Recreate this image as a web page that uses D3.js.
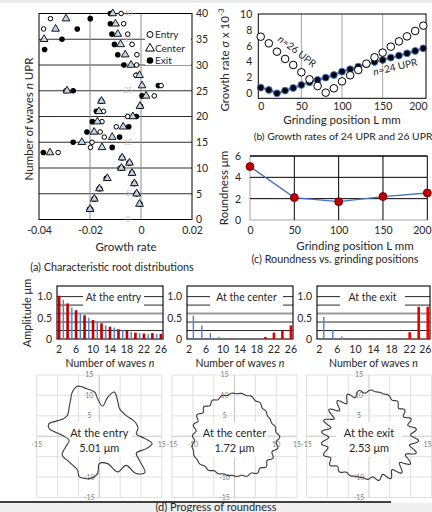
<!DOCTYPE html>
<html>
<head>
<meta charset="utf-8">
<script src="https://cdn.jsdelivr.net/npm/d3@7"></script>
<style>
body { margin: 0; background: #fff; }
svg { display: block; font-family: Lato, "Open Sans", sans-serif; }
</style>
</head>
<body>
<div class="canva"></div>
<script>
// (a) characteristic roots, n = 2..40 (null = off the chart)
const waveN = [2,3,4,5,6,7,8,9,10,11,12,13,14,15,16,17,18,19,20,21,22,23,24,25,26,27,28,29,30,31,32,33,34,35,36,37,38,39,40];
const entryRate = [-0.0197,-0.0005,-0.0181,-0.0016,-0.0161,-0.0025,-0.0134,-0.0034,-0.0082,-0.0044,-0.0073,-0.0325,-0.0198,-0.0192,-0.0144,-0.0160,-0.0097,-0.0153,-0.0052,-0.0147,-0.0003,-0.0154,0.0052,-0.0295,0.0079,null,-0.0020,null,-0.0017,null,-0.0016,null,-0.0035,null,-0.0052,-0.0382,-0.0068,-0.0355,-0.0078];
const centerRate = [-0.0200,-0.0006,-0.0183,-0.0017,-0.0163,-0.0026,-0.0132,-0.0035,-0.0077,-0.0045,-0.0074,-0.0357,-0.0153,-0.0232,-0.0113,-0.0184,-0.0070,-0.0171,-0.0032,-0.0165,-0.0004,-0.0155,0.0020,-0.0290,0.0004,null,-0.0006,null,-0.0039,null,-0.0062,null,-0.0080,-0.0380,-0.0091,-0.0335,-0.0100,-0.0294,-0.0111];
const exitRate = [-0.0202,-0.0004,-0.0184,-0.0018,-0.0164,-0.0027,-0.0136,-0.0036,-0.0074,-0.0047,-0.0075,-0.0383,-0.0113,-0.0266,-0.0084,-0.0212,-0.0048,-0.0191,-0.0018,-0.0175,-0.0002,-0.0156,0.0004,-0.0266,0.0068,null,-0.0018,null,-0.0067,null,-0.0091,-0.0378,-0.0104,-0.0310,-0.0114,-0.0250,-0.0120,-0.0199,-0.0120];
const rateTicks = [-0.04, -0.02, 0, 0.02];
const waveTicks = [0, 5, 10, 15, 20, 25, 30, 35, 40];

// (b) growth rates along the wheel
const gridPos = [0,10,20,30,40,50,60,70,80,90,100,110,120,130,140,150,160,170,180,190,200];
const rate26 = [7.14,6.30,5.25,4.33,3.57,2.65,1.76,0.92,0.08,0.63,1.50,2.27,2.94,3.74,4.54,5.13,5.88,6.55,7.18,7.86,8.53];
const rate24 = [0.71,0.42,0.00,0.34,0.67,1.05,1.39,1.68,1.97,2.31,2.73,3.03,3.36,3.66,3.95,4.20,4.50,4.75,5.04,5.34,5.67];

// (c) roundness
const roundPos = [0, 50, 100, 150, 200];
const roundness = [5.01, 2.10, 1.72, 2.20, 2.53];

// (d) harmonic amplitudes, n = 2..26
const harmN = [2,3,4,5,6,7,8,9,10,11,12,13,14,15,16,17,18,19,20,21,22,23,24,25,26];
const entryAmp = [1.02,0.92,0.84,0.74,0.68,0.60,0.56,0.50,0.45,0.40,0.37,0.32,0.29,0.27,0.23,0.21,0.19,0.17,0.15,0.14,0.13,0.11,0.14,0.12,0.12];
const centerAmp = [0,0.55,0,0.32,0.01,0.14,0,0.05,0,0.02,0.01,0,0,0,0,0,0,0,0.05,0,0.15,0,0.20,0,0.32];
const exitAmp = [0,0.52,0,0.21,0,0.06,0,0,0,0,0,0,0,0,0,0,0,0,0,0,0.16,0,0.76,0,0.76];
// lobe angles (deg) used to lay the harmonics out on the profile
const centerLobe = [0,90,0,0,0,0,0,0,0,0,0,0,0,0,0,0,0,0,0,0,-30,0,-30,0,-30];
const exitLobe = [0,90,0,0,0,0,0,0,0,0,0,0,0,0,0,0,0,0,0,0,0,0,-20,0,-20];
// entry profile (angle deg, radius)
const entryAngle = [352,357,4,11.5,19,26,38,54,62,71.5,78,84,92.5,96,105,113,121,128,135,146.5,155,166,171,178.5,188,198,207,221,238,244,259,267.5,270,286.6,297,312,314,321,328.5,335,345];
const entryRadius = [12.8,11.0,8.9,9.5,9.4,9.0,8.2,8.3,9.5,11.4,9.8,7.4,9.2,10.9,12.1,13.3,12.6,11.2,10.2,9.2,9.8,12.5,12.2,8.9,7.3,8.5,10.0,9.6,9.8,11.0,10.5,9.1,6.7,7.0,9.8,9.6,12.7,14.1,11.3,9.8,11.7];
const polarTicks = [-15, -10, -5, 0, 5, 10, 15];

const ink = "#262626";
const svg = d3.select(".canva").append("svg")
    .attr("width", 432)
    .attr("height", 512);
svg.append("rect").attr("width", 432).attr("height", 512).attr("fill", "#fff");
svg.append("rect").attr("width", 432).attr("height", 3).attr("fill", "#ececec");

function label(g, x, y, s, size, anchor) {
    return g.append("text").attr("x", x).attr("y", y)
        .attr("font-size", size).attr("text-anchor", anchor || "middle")
        .attr("fill", ink).text(s);
}
function styleAxis(sel, size) {
    sel.attr("font-family", null);
    sel.select(".domain").remove();
    sel.selectAll(".tick line").remove();
    sel.selectAll("text").attr("font-size", size).attr("fill", ink);
}
// last tick label sits against the page edge, as in the source
function pinLast(sel) {
    sel.selectAll(".tick:last-of-type text").attr("text-anchor", "end").attr("dx", "0.35em");
}
function hline(g, x1, x2, y, col, w) {
    g.append("line").attr("x1", x1).attr("x2", x2).attr("y1", y).attr("y2", y)
        .attr("stroke", col).attr("stroke-width", w);
}
function vline(g, x, y1, y2, col, w) {
    g.append("line").attr("x1", x).attr("x2", x).attr("y1", y1).attr("y2", y2)
        .attr("stroke", col).attr("stroke-width", w);
}

// ---------- (a)
const ga = svg.append("g");
const xa = d3.scaleLinear().domain([-0.04, 0.02]).range([39, 192]);
const ya = d3.scaleLinear().domain([0, 40]).range([219.5, 13.5]);
[5,10,15,20,25,30,35].forEach(v => hline(ga, 39, 192, ya(v), "#1a1a1a", 0.9));
[-0.02, 0].forEach(v => vline(ga, xa(v), ya(40), ya(0), "#8c8c8c", 1));
ga.append("rect").attr("x", 39).attr("y", ya(40)).attr("width", 153).attr("height", ya(0) - ya(40))
    .attr("fill", "none").attr("stroke", "#000").attr("stroke-width", 1);
ga.selectAll("text.faint").data(waveTicks).join("text").attr("class", "faint")
    .attr("x", 128).attr("y", d => ya(d)).attr("dy", "0.35em")
    .attr("text-anchor", "middle").attr("font-size", 7.5).attr("fill", "#c4c4c4")
    .text(d => d);
ga.append("g").attr("transform", "translate(192,0)")
    .call(d3.axisRight(ya).tickValues(waveTicks).tickSize(0).tickPadding(4))
    .call(styleAxis, 10.5);
ga.append("g").attr("transform", "translate(0," + ya(0) + ")")
    .call(d3.axisBottom(xa).tickValues(rateTicks).tickFormat(d => d === 0 ? "0" : String(d)).tickSize(0).tickPadding(7))
    .call(styleAxis, 10.5);

const pts = rates => waveN.map((n, i) => ({ n: n, v: rates[i] })).filter(d => d.v !== null);
const tri = d3.symbol(d3.symbolTriangle, 26);
ga.selectAll("circle.exit").data(pts(exitRate)).join("circle").attr("class", "exit")
    .attr("cx", d => xa(d.v)).attr("cy", d => ya(d.n)).attr("r", 2.8).attr("fill", "#000");
ga.selectAll("circle.entry").data(pts(entryRate)).join("circle").attr("class", "entry")
    .attr("cx", d => xa(d.v)).attr("cy", d => ya(d.n)).attr("r", 2.3)
    .attr("fill", "#fff").attr("stroke", "#000").attr("stroke-width", 1);
ga.selectAll("path.center").data(pts(centerRate)).join("path").attr("class", "center")
    .attr("d", tri).attr("transform", d => "translate(" + xa(d.v) + "," + ya(d.n) + ")")
    .attr("fill", "#bdd7ee").attr("stroke", "#000").attr("stroke-width", 0.9);

// legend
ga.append("rect").attr("x", 145).attr("y", 27).attr("width", 46).attr("height", 38).attr("fill", "#fff");
ga.append("circle").attr("cx", 150).attr("cy", 34.5).attr("r", 3).attr("fill", "#fff").attr("stroke", "#000");
ga.append("path").attr("d", d3.symbol(d3.symbolTriangle, 34)()).attr("transform", "translate(150,48.5)")
    .attr("fill", "#fff").attr("stroke", "#000");
ga.append("circle").attr("cx", 150).attr("cy", 60.5).attr("r", 3.3).attr("fill", "#000");
label(ga, 155, 38, "Entry", 10, "start");
label(ga, 155, 52, "Center", 10, "start");
label(ga, 155, 64, "Exit", 10, "start");

const ta = label(ga, 0, 0, "", 11.5).attr("transform", "translate(32.5,119) rotate(-90)");
ta.append("tspan").text("Number of waves ");
ta.append("tspan").attr("font-style", "italic").text("n");
ta.append("tspan").text(" UPR");
label(ga, 126, 250.5, "Growth rate", 11.5);
label(ga, 112, 270.5, "(a) Characteristic root distributions", 10.8);

// ---------- (b)
const gb = svg.append("g");
const xb = d3.scaleLinear().domain([0, 200]).range([260.7, 423.3]);
const yb = d3.scaleLinear().domain([0, 10]).range([93.3, 14]);
[50, 100, 150].forEach(v => vline(gb, xb(v), 14, 98.3, "#a6a6a6", 1));
gb.append("rect").attr("x", 258.3).attr("y", 14).attr("width", 167.7).attr("height", 84.3)
    .attr("fill", "none").attr("stroke", "#000").attr("stroke-width", 1);
gb.append("g").attr("transform", "translate(258.3,0)")
    .call(d3.axisLeft(yb).tickValues([0, 2, 4, 6, 8, 10]).tickFormat(d3.format("d")).tickSize(0).tickPadding(6))
    .call(styleAxis, 10.5);
gb.append("g").attr("transform", "translate(0,98.3)")
    .call(d3.axisBottom(xb).tickValues([0, 50, 100, 150, 200]).tickFormat(d3.format("d")).tickSize(0).tickPadding(4))
    .call(styleAxis, 10.5).call(pinLast);
const b24 = gridPos.map((p, i) => [p, rate24[i]]);
const b26 = gridPos.map((p, i) => [p, rate26[i]]);
gb.append("path").attr("d", d3.line().x(d => xb(d[0])).y(d => yb(d[1]))(b24))
    .attr("fill", "none").attr("stroke", "#4472c4").attr("stroke-width", 2);
gb.selectAll("circle.r24").data(b24).join("circle").attr("class", "r24")
    .attr("cx", d => xb(d[0])).attr("cy", d => yb(d[1])).attr("r", 3.4)
    .attr("fill", "#000").attr("stroke", "#4472c4").attr("stroke-width", 1);
gb.selectAll("circle.r26").data(b26).join("circle").attr("class", "r26")
    .attr("cx", d => xb(d[0])).attr("cy", d => yb(d[1])).attr("r", 3.8)
    .attr("fill", "#fff").attr("stroke", "#000").attr("stroke-width", 1);
const l26 = label(gb, 0, 0, "", 10).attr("transform", "translate(295,54) rotate(38)");
l26.append("tspan").attr("font-style", "italic").text("n");
l26.append("tspan").text("=26 UPR");
const l24 = label(gb, 0, 0, "", 10).attr("transform", "translate(396,70.5) rotate(-13)");
l24.append("tspan").attr("font-style", "italic").text("n");
l24.append("tspan").text("=24 UPR");
const tb = label(gb, 0, 0, "", 11.5).attr("transform", "translate(229,60) rotate(-90)");
tb.append("tspan").text("Growth rate ");
tb.append("tspan").attr("font-style", "italic").text("σ");
tb.append("tspan").text(" x 10");
tb.append("tspan").attr("font-size", 8).attr("dy", -5).text("-3");
label(gb, 342, 124, "Grinding position L mm", 11.5);
label(gb, 343, 139.5, "(b) Growth rates of 24 UPR and 26 UPR", 10.3);

// ---------- (c)
const gc = svg.append("g");
const xc = d3.scaleLinear().domain([0, 200]).range([250, 427.3]);
const yc = d3.scaleLinear().domain([0, 6]).range([220, 156]);
vline(gc, xc(0), yc(0), yc(6), "#a6a6a6", 1);
hline(gc, xc(0), xc(200), yc(0), "#a6a6a6", 1);
[2, 4].forEach(v => hline(gc, xc(0), xc(200), yc(v), "#000", 1));
[50, 100, 150, 200].forEach(v => vline(gc, xc(v), yc(0), yc(6), "#000", 1));
hline(gc, xc(0), xc(200), yc(6), "#000", 1.6);
gc.append("g").attr("transform", "translate(241,0)")
    .call(d3.axisLeft(yc).tickValues([0, 2, 4, 6]).tickFormat(d3.format("d")).tickSize(0).tickPadding(0))
    .call(styleAxis, 10.5);
gc.append("g").attr("transform", "translate(0,220)")
    .call(d3.axisBottom(xc).tickValues(roundPos).tickFormat(d3.format("d")).tickSize(0).tickPadding(7))
    .call(styleAxis, 10.5).call(pinLast);
const cPts = roundPos.map((p, i) => [p, roundness[i]]);
gc.append("path").attr("d", d3.line().x(d => xc(d[0])).y(d => yc(d[1]))(cPts))
    .attr("fill", "none").attr("stroke", "#4472c4").attr("stroke-width", 1.3);
gc.selectAll("circle").data(cPts).join("circle")
    .attr("cx", d => xc(d[0])).attr("cy", d => yc(d[1])).attr("r", 4)
    .attr("fill", "#c00000").attr("stroke", "#5a0000").attr("stroke-width", 0.8);
label(gc, 0, 0, "Roundness μm", 11.5).attr("transform", "translate(228,188) rotate(-90)");
label(gc, 355, 250, "Grinding position L mm", 11.5);
label(gc, 335, 262.5, "(c) Roundness vs. grinding positions", 10.8);

// ---------- bar spectra
const barPanels = [
    { x0: 57, x1: 163, amps: entryAmp, red: "#c00000", text: "At the entry", box: [83, 144] },
    { x0: 187, x1: 293, amps: centerAmp, red: "#e00000", text: "At the center", box: [210, 283] },
    { x0: 317, x1: 430, amps: exitAmp, red: "#ee0000", text: "At the exit", box: [340, 405] }
];
const yBar = d3.scaleLinear().domain([0, 1.25]).range([339, 286]);
barPanels.forEach((p, k) => {
    const g = svg.append("g");
    const xs = d3.scaleBand().domain(harmN).range([p.x0, p.x1]);
    [0.2, 0.4, 0.8, 1.0].forEach(v => hline(g, p.x0, p.x1, yBar(v), "#111", 0.9));
    hline(g, p.x0, p.x1, yBar(0.6), "#9a9a9a", 2);
    g.append("rect").attr("x", p.x0).attr("y", yBar(1.25)).attr("width", p.x1 - p.x0)
        .attr("height", yBar(0) - yBar(1.25)).attr("fill", "none").attr("stroke", "#000").attr("stroke-width", 1.1);
    g.append("rect").attr("x", p.box[0]).attr("y", 289).attr("width", p.box[1] - p.box[0]).attr("height", 20).attr("fill", "#fff");
    label(g, (p.box[0] + p.box[1]) / 2, 300.5, p.text, 10.5);
    const bars = harmN.map((n, i) => ({ n: n, a: p.amps[i] })).filter(d => d.a > 0);
    g.selectAll("rect.bar").data(bars).join("rect").attr("class", "bar")
        .attr("x", d => xs(d.n) + xs.bandwidth() / 2 - (d.n % 2 ? 0.7 : 1.3))
        .attr("width", d => d.n % 2 ? 1.4 : 2.6)
        .attr("y", d => yBar(d.a)).attr("height", d => yBar(0) - yBar(d.a))
        .attr("fill", d => d.n % 2 ? "#4a80d6" : p.red);
    g.append("g").attr("transform", "translate(" + (p.x0 - 5) + ",0)")
        .call(d3.axisLeft(yBar).tickValues([0, 0.5, 1]).tickFormat(d => d === 0 ? "0" : d.toFixed(1)).tickSize(0).tickPadding(0))
        .call(styleAxis, 10.5);
    const ax = g.append("g").attr("transform", "translate(0,339)")
        .call(d3.axisBottom(xs).tickValues([2, 6, 10, 14, 18, 22, 26]).tickSize(0).tickPadding(7))
        .call(styleAxis, 10.5);
    if (k === 2) ax.call(pinLast);
    const t = label(g, (p.x0 + p.x1) / 2, 367, "", 10.5);
    t.append("tspan").text("Number of waves ");
    t.append("tspan").attr("font-style", "italic").text("n");
});
label(svg, 0, 0, "Amplitude μm", 11).attr("transform", "translate(31,313) rotate(-90)");

// ---------- (d) polar profiles
const profiles = [
    { cx: 99.3, l1: "At the entry", l2: "5.01 μm", tens: false },
    { cx: 234.5, l1: "At the center", l2: "1.72 μm", tens: true, amps: centerAmp, lobe: centerLobe, r0: 10.1, mag: 0.7 },
    { cx: 369, l1: "At the exit", l2: "2.53 μm", tens: false, amps: exitAmp, lobe: exitLobe, r0: 10.7, mag: 0.7 }
];
const rad = Math.PI / 180;
profiles.forEach((p, k) => {
    const g = svg.append("g");
    const xs = d3.scaleLinear().domain([-15, 15]).range([p.cx - 62.5, p.cx + 62.5]);
    const ys = d3.scaleLinear().domain([-15, 15]).range([497.5, 375]);
    polarTicks.forEach(v => {
        vline(g, xs(v), ys(-15), ys(15), v === 0 ? "#bfbfbf" : "#dcdcdc", 0.9);
        hline(g, xs(-15), xs(15), ys(v), v === 0 ? "#bfbfbf" : "#dcdcdc", 0.9);
    });
    const small = (x, y, s, anchor) => g.append("text").attr("x", x).attr("y", y).attr("dy", "0.35em")
        .attr("font-size", 7).attr("fill", "#7f7f7f").attr("text-anchor", anchor || "middle").text(s);
    [15, 10, 5, -10, -15].forEach(v => small(p.cx - 10, ys(v), v));
    small(xs(-15), ys(0) + 8, -15);
    small(xs(15), ys(0) + 8, 15, k === 2 ? "end" : "middle");
    if (p.tens) { small(xs(-10), ys(0) + 8, -10); small(xs(10), ys(0) + 8, 10); }
    g.append("rect").attr("x", p.cx - 33).attr("y", 422).attr("width", 66).attr("height", 35).attr("fill", "#fff");
    let xy;
    if (k === 0) {
        xy = entryAngle.map((a, i) => [entryRadius[i] * Math.cos(a * rad), entryRadius[i] * Math.sin(a * rad)]);
    } else {
        xy = d3.range(0, 360, 1).map(a => {
            let r = p.r0;
            harmN.forEach((n, i) => { r += p.mag * p.amps[i] * Math.cos(n * (a - p.lobe[i]) * rad); });
            return [r * Math.cos(a * rad), r * Math.sin(a * rad)];
        });
    }
    g.append("path").attr("d", d3.line().x(d => xs(d[0])).y(d => ys(d[1])).curve(d3.curveCatmullRomClosed)(xy))
        .attr("fill", "none").attr("stroke", "#3a3a3a").attr("stroke-width", 1.1);
    label(g, p.cx, 437, p.l1, 11);
    label(g, p.cx, 452, p.l2, 11);
});

svg.append("rect").attr("y", 503).attr("width", 432).attr("height", 9).attr("fill", "#efefef");
hline(svg, 0, 391, 502, "#000", 1.3);
label(svg, 216, 510.5, "(d) Progress of roundness", 11);
</script>
</body>
</html>
